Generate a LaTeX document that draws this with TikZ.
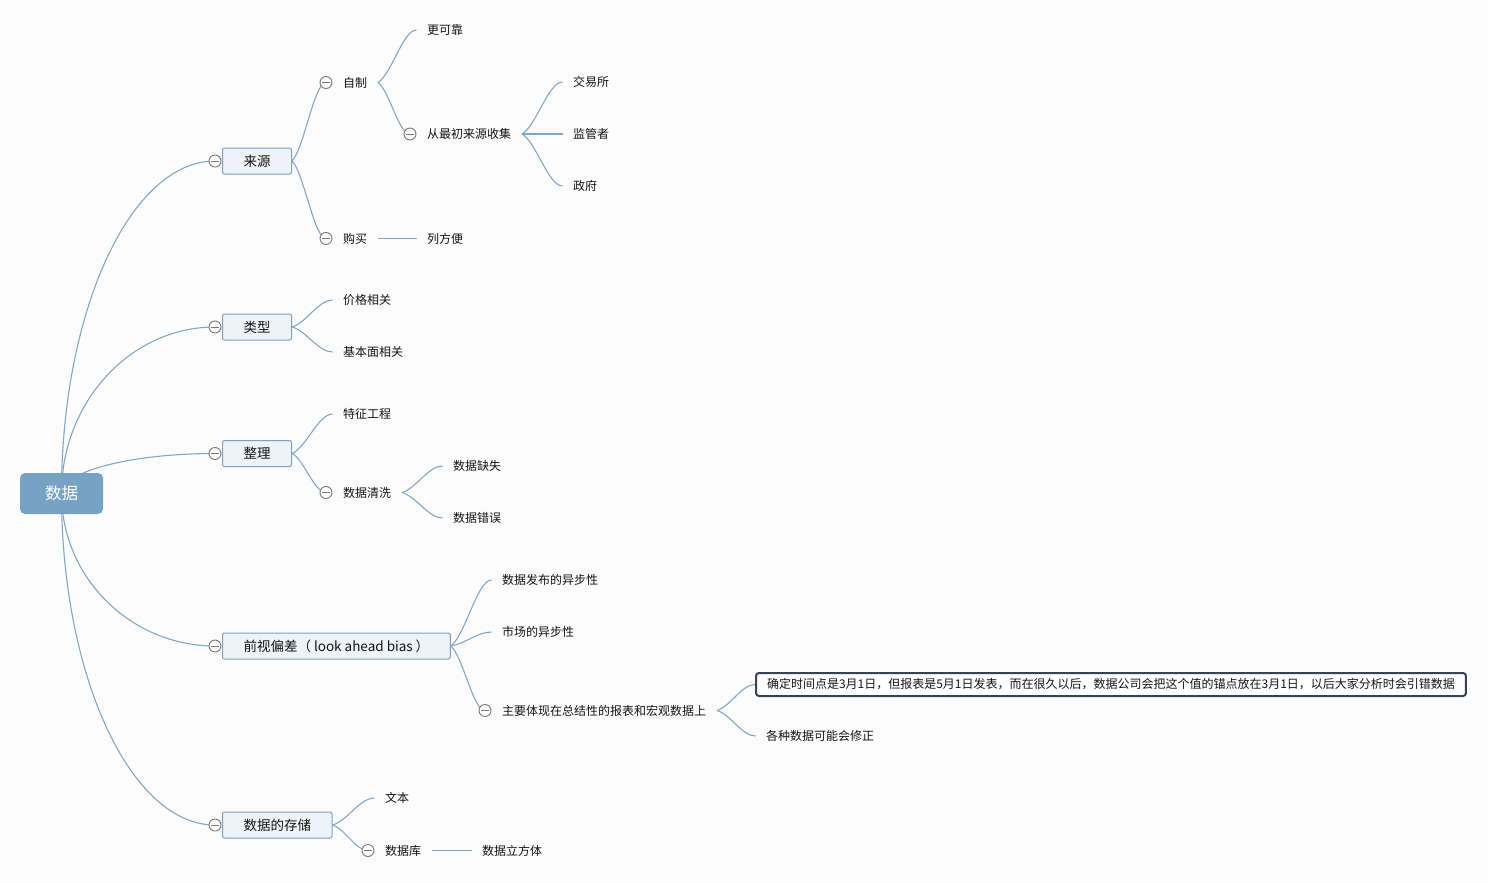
\documentclass[tikz,border=0pt]{standalone}
\usepackage{fontspec}
\setmainfont{Noto Sans CJK SC}
\usetikzlibrary{calc,backgrounds}
\definecolor{bg}{RGB}{252,252,253}
\definecolor{conn}{RGB}{128,168,200}
\definecolor{rootfill}{RGB}{118,163,196}
\definecolor{boxfill}{RGB}{238,243,248}
\definecolor{boxdraw}{RGB}{122,162,196}
\definecolor{txt}{RGB}{20,20,20}
\definecolor{foldgray}{RGB}{120,120,120}
\definecolor{notedraw}{RGB}{52,68,84}
\tikzset{
  lbl/.style={anchor=west, inner xsep=10.5pt, inner ysep=2pt, text=txt, font=\fontsize{12}{14}\selectfont},
  topic/.style={draw=boxdraw, fill=boxfill, rounded corners=2pt, line width=1pt, inner xsep=21pt, inner ysep=0pt, minimum height=26pt, anchor=west, text=txt, font=\fontsize{13.5}{16}\selectfont},
  rootbox/.style={fill=rootfill, rounded corners=5pt, minimum width=83pt, minimum height=41pt, text=white, font=\fontsize{16.5}{20}\selectfont},
  notebox/.style={draw=notedraw, fill=white, line width=2pt, rounded corners=3pt, anchor=west, inner xsep=11pt, inner ysep=0pt, minimum height=23pt, text=txt, font=\fontsize{12}{14}\selectfont},
  fold/.style={circle, draw=foldgray, fill=white, line width=0.9pt, minimum size=12pt, inner sep=0pt,
    path picture={\draw[foldgray, line width=0.9pt] ($(path picture bounding box.center)+(-4,0)$) -- ++(8,0);}},
  link/.style={draw=conn, line width=1.1pt},
  scurve/.style={to path={let \p1=(\tikztostart), \p2=(\tikztotarget) in
      .. controls ({\x1+0.35*(\x2-\x1)},{\y1+0.15*(\y2-\y1)}) and ({\x2-0.35*(\x2-\x1)},{\y2}) .. (\p2)}},
  ecurve/.style={to path={let \p1=(\tikztostart), \p2=(\tikztotarget) in
      .. controls ({\x1},{\y1+0.55*(\y2-\y1)}) and ({\x2-0.55*(\x2-\x1)},{\y2}) .. (\p2)}},
}
\begin{document}
\begin{tikzpicture}[x=1pt,y=-1pt]
\useasboundingbox (0,0) rectangle (1488,883);
% root
\node[rootbox] (root) at (61.5,493.5) {数据};
% topics
\node[topic] (laiyuan) at (222,161) {来源};
\node[topic] (leixing) at (222,327) {类型};
\node[topic] (zhengli) at (222,453.5) {整理};
\node[topic] (qianshi) at (222,646) {前视偏差（ look ahead bias ）};
\node[topic] (cunchu) at (222,825) {数据的存储};
\node[fold] (f-laiyuan) at (215,161) {};
\node[fold] (f-leixing) at (215,327) {};
\node[fold] (f-zhengli) at (215,453.5) {};
\node[fold] (f-qianshi) at (215,646) {};
\node[fold] (f-cunchu) at (215,825) {};
% 来源
\node[fold] (f-zizhi) at (326,82.5) {};
\node[lbl] (zizhi) at (332.5,82.5) {自制};
\node[lbl] (gengkekao) at (416.5,30) {更可靠};
\node[fold] (f-cong) at (410,134) {};
\node[lbl] (cong) at (416.5,134) {从最初来源收集};
\node[lbl] (jiaoyisuo) at (562.5,82) {交易所};
\node[lbl] (jianguan) at (562.5,134) {监管者};
\node[lbl] (zhengfu) at (562.5,186) {政府};
\node[fold] (f-goumai) at (326,238.5) {};
\node[lbl] (goumai) at (332.5,238.5) {购买};
\node[lbl] (liefangbian) at (416.5,238.5) {列方便};
% 类型
\node[lbl] (jiage) at (332.5,300) {价格相关};
\node[lbl] (jibenmian) at (332.5,352) {基本面相关};
% 整理
\node[lbl] (tezheng) at (332.5,414) {特征工程};
\node[fold] (f-qingxi) at (326,492.5) {};
\node[lbl] (qingxi) at (332.5,492.5) {数据清洗};
\node[lbl] (queshi) at (442.5,466) {数据缺失};
\node[lbl] (cuowu) at (442.5,518) {数据错误};
% 前视偏差
\node[lbl] (fabu) at (491.5,580) {数据发布的异步性};
\node[lbl] (shichang) at (491.5,632) {市场的异步性};
\node[fold] (f-zhuyao) at (485,710.5) {};
\node[lbl] (zhuyao) at (491.5,710.5) {主要体现在总结性的报表和宏观数据上};
\node[notebox] (note) at (755,684.5) {确定时间点是3月1日，但报表是5月1日发表，而在很久以后，数据公司会把这个值的锚点放在3月1日，以后大家分析时会引错数据};
\node[lbl] (gezhong) at (755.5,736) {各种数据可能会修正};
% 数据的存储
\node[lbl] (wenben) at (374.5,798) {文本};
\node[fold] (f-shujuku) at (368,850.5) {};
\node[lbl] (shujuku) at (374.5,850.5) {数据库};
\node[lbl] (lifangti) at (471.5,850.5) {数据立方体};
\begin{scope}[on background layer]
\fill[bg] (0,0) rectangle (1488,883);
\draw[link] (root.center) to[ecurve] (f-laiyuan.center);
\draw[link] (root.center) to[ecurve] (f-leixing.center);
\draw[link] (root.center) to[ecurve] (f-zhengli.center);
\draw[link] (root.center) to[ecurve] (f-qianshi.center);
\draw[link] (root.center) to[ecurve] (f-cunchu.center);
\draw[link] (laiyuan.east) to[scurve] (f-zizhi.center);
\draw[link] (laiyuan.east) to[scurve] (f-goumai.center);
\draw[link] (zizhi.east) to[scurve] (gengkekao.west);
\draw[link] (zizhi.east) to[scurve] (f-cong.center);
\draw[link] (cong.east) to[scurve] (jiaoyisuo.west);
\draw[link] (cong.east) to[scurve] (jianguan.west);
\draw[link] (cong.east) to[scurve] (zhengfu.west);
\draw[link] (goumai.east) -- (liefangbian.west);
\draw[link] (leixing.east) to[scurve] (jiage.west);
\draw[link] (leixing.east) to[scurve] (jibenmian.west);
\draw[link] (zhengli.east) to[scurve] (tezheng.west);
\draw[link] (zhengli.east) to[scurve] (f-qingxi.center);
\draw[link] (qingxi.east) to[scurve] (queshi.west);
\draw[link] (qingxi.east) to[scurve] (cuowu.west);
\draw[link] (qianshi.east) to[scurve] (fabu.west);
\draw[link] (qianshi.east) to[scurve] (shichang.west);
\draw[link] (qianshi.east) to[scurve] (f-zhuyao.center);
\draw[link] (zhuyao.east) to[scurve] (note.west);
\draw[link] (zhuyao.east) to[scurve] (gezhong.west);
\draw[link] (cunchu.east) to[scurve] (wenben.west);
\draw[link] (cunchu.east) to[scurve] (f-shujuku.center);
\draw[link] (shujuku.east) -- (lifangti.west);
\end{scope}
\end{tikzpicture}
\end{document}
